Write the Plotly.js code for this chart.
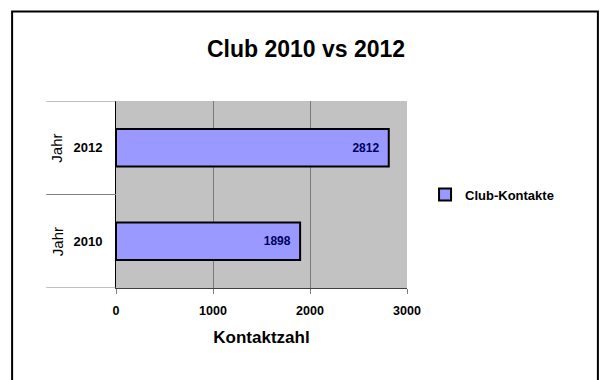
<!DOCTYPE html>
<html><head><meta charset="utf-8">
<script src="https://cdn.plot.ly/plotly-3.0.1.min.js"></script>
<style>html,body{margin:0;padding:0;background:#fff}#c{width:602px;height:380px}</style>
</head><body><div id="c"></div>
<script>
const years = ["2010", "2012"];
const groupLabel = "Jahr";
const contacts = [1898, 2812];
const seriesName = "Club-Kontakte";
const xTicks = [0, 1000, 2000, 3000];

const F = "Liberation Sans, Arial, sans-serif";
const trace = {
  type: "bar", orientation: "h",
  y: years, x: contacts, name: seriesName,
  width: 0.4,
  marker: {color: "#9999ff", line: {color: "#000000", width: 2}},
  text: contacts.map(v => v + "\u00a0\u00a0"), textposition: "inside", insidetextanchor: "end",
  textfont: {family: F, size: 12, color: "#000060", weight: "bold"},
  showlegend: true, hoverinfo: "none"
};
const shapes = [
  {type: "rect", xref: "paper", yref: "paper", x0: -0.357, x1: 1.656, y0: 1.478, y1: -0.55, line: {color: "#000", width: 2}},
];
[-0.5, 0.5, 1.5].forEach(v => shapes.push({type: "line", xref: "paper", yref: "y", x0: -0.24, x1: 0, y0: v, y1: v, line: {color: "#808080", width: 1}}));
const annotations = years.map((y, i) => ({
  xref: "paper", yref: "y", x: -0.203, y: i, xanchor: "center", yanchor: "middle", text: groupLabel, textangle: -90,
  showarrow: false, font: {family: F, size: 15, color: "#000"}
}));
const layout = {
  width: 602, height: 380,
  margin: {l: 116, r: 195, t: 101, b: 92},
  paper_bgcolor: "#ffffff", plot_bgcolor: "#c2c2c2",
  title: {text: "Club 2010 vs 2012", x: 306/602, xref: "container", xanchor: "center", y: 1 - 49/380, yanchor: "middle",
    font: {family: F, size: 23, color: "#000", weight: "bold"}},
  xaxis: {range: [0, 3000], tickvals: xTicks, ticktext: xTicks.map(String),
    showgrid: true, gridcolor: "#7a7a7a", gridwidth: 1,
    ticks: "outside", ticklen: 5, tickcolor: "#808080", ticklabelstandoff: 6,
    showline: true, linecolor: "#404040", linewidth: 1, mirror: false, zeroline: false,
    tickfont: {family: F, size: 12.5, color: "#000", weight: "bold"},
    title: {text: "Kontaktzahl", standoff: 14, font: {family: F, size: 17, color: "#000", weight: "bold"}}},
  yaxis: {type: "category", categoryorder: "array", categoryarray: years, range: [-0.5, 1.5],
    showgrid: false, showline: true, linecolor: "#000", linewidth: 1, zeroline: false,
    ticks: "", ticklabelstandoff: 10,
    tickfont: {family: F, size: 13, color: "#000", weight: "bold"}},
  legend: {x: 1.062, y: 0.5, xanchor: "left", yanchor: "middle", bgcolor: "rgba(0,0,0,0)",
    font: {family: F, size: 13, color: "#000", weight: "bold"}, itemwidth: 30},
  shapes: shapes, annotations: annotations, bargap: 0.6
};
Plotly.newPlot("c", [trace], layout, {staticPlot: true});
</script></body></html>
